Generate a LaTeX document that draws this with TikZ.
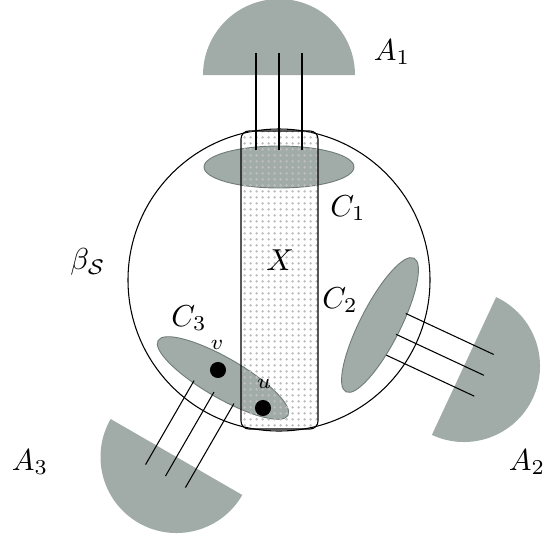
\documentclass[tikz,border=0pt]{standalone}
\usepackage{amsmath}
\usepackage{amssymb}
\usepackage{xcolor}
\usetikzlibrary{calc,patterns.meta}
\definecolor{blobgray}{RGB}{161,172,168}
\definecolor{blobedge}{RGB}{112,124,120}
\definecolor{dotgray}{RGB}{190,190,190}
\tikzdeclarepattern{
  name=finedots,
  type=uncolored,
  tile size={(2pt,2pt)},
  bounding box={(0pt,0pt) and (2pt,2pt)},
  code={\fill (1pt,1pt) circle[radius=0.5pt];}
}

\begin{document}
\begin{tikzpicture}[
  x=0.33pt, y=-0.33pt,
  blob/.style={fill=blobgray, draw=blobedge, line width=0.3pt},
  halfdisc/.style={fill=blobgray},
  region/.style={draw, line width=0.35pt, pattern={finedots}, pattern color=dotgray, rounded corners=2.6pt},
  wire/.style={line width=0.35pt},
  vtx/.style={circle, fill=black, inner sep=0pt, minimum size=5.3pt},
  lbl/.style={inner sep=0pt},
  smalllbl/.style={inner sep=0pt, font=\scriptsize}
]
\useasboundingbox (0,0) rectangle (544,537);
\coordinate (ctr) at (279,280);
\coordinate (P1) at (279,75);
\coordinate (P2) at (464,366);
\coordinate (P3) at (176.5,457);
\draw[line width=0.35pt] (ctr) circle[radius=151];
\filldraw[blob] (279,167) ellipse[x radius=75, y radius=21];
\filldraw[blob, rotate around={63:(380,325)}] (380,325) ellipse[x radius=75, y radius=20];
\filldraw[blob, rotate around={-30:(223,378)}] (223,378) ellipse[x radius=75, y radius=20];
\draw[region] (241,131) rectangle (318,429);
\foreach \p/\t in {P1/-90, P2/25, P3/120} {
  \fill[halfdisc] ($(\p)+(\t-90:76)$) arc[start angle=\t-90, end angle=\t+90, radius=76] -- cycle;
  \foreach \o in {-23,0,23}
    \draw[wire] ($(\p)+(\t:22)+(\t+90:\o)$) -- ($(\p)+(\t+180:75)+(\t+90:\o)$);
}
\node[vtx] (v) at (218,370) {};
\node[vtx] (u) at (263,408) {};
\node[smalllbl] (vlbl) at (217,345) {$v$};
\node[smalllbl] (ulbl) at (264,384) {$u$};
\node[lbl] (a1) at (392,52) {$A_1$};
\node[lbl] (a2) at (527,462) {$A_2$};
\node[lbl] (a3) at (30,462) {$A_3$};
\node[lbl] (c1) at (348,208) {$C_1$};
\node[lbl] (c2) at (340,300) {$C_2$};
\node[lbl] (c3) at (189,318) {$C_3$};
\node[lbl] (x) at (280,260) {$X$};
\node[lbl] (beta) at (88,262) {$\beta_{\mathcal{S}}$};
\end{tikzpicture}
\end{document}
